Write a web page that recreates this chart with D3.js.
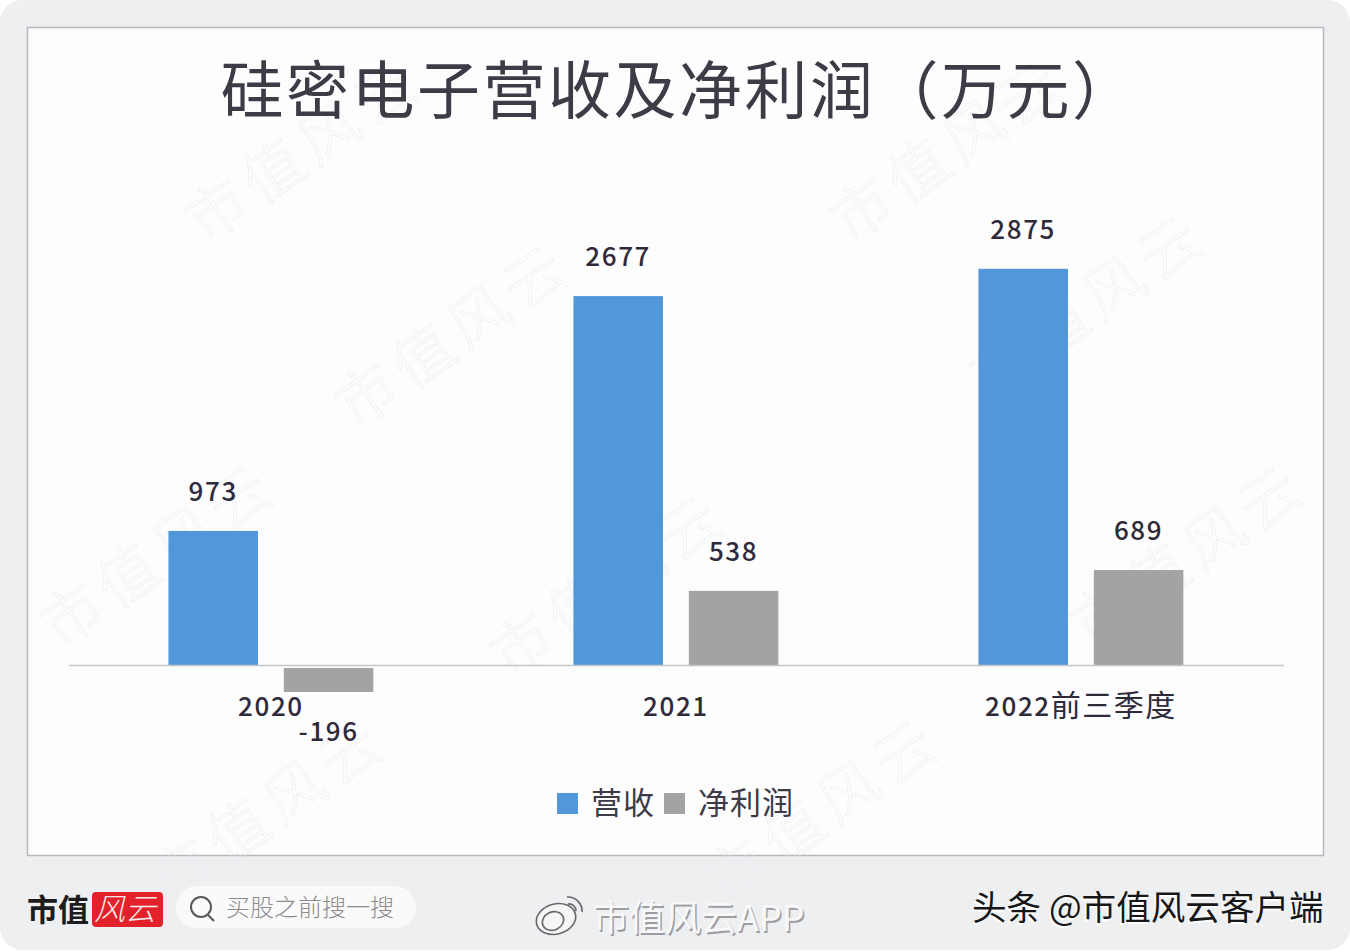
<!DOCTYPE html>
<html lang="zh"><head><meta charset="utf-8">
<style>html,body{margin:0;padding:0;background:#fff}svg{display:block}text{font-family:"Noto Sans CJK SC","Noto Sans",sans-serif}</style>
<script src="https://cdn.jsdelivr.net/npm/d3@7/dist/d3.min.js"></script></head><body>
<svg id="c" width="1350" height="952"></svg>
<script>
const categories = ["2020", "2021", "2022前三季度"];
const seriesNames = ["营收", "净利润"];
const revenue = [973, 2677, 2875];
const netProfit = [-196, 538, 689];
const colors = ["#5297d9", "#a3a3a5"];
const chartTitle = "硅密电子营收及净利润（万元）";
const inkColor = "#2f2a3a";

const svg = d3.select("#c");
svg.append("rect").attr("width",1350).attr("height",952).attr("fill","#ffffff");
svg.append("rect").attr("x",0).attr("y",0).attr("width",1350).attr("height",950).attr("rx",22).attr("fill","#eeeff1");
svg.append("rect").attr("x",27.5).attr("y",27.5).attr("width",1296).attr("height",828).attr("fill","#fdfdfe").attr("stroke","#b4b7bb").attr("stroke-width",1.5);

// faint diagonal watermark
const marks = [[205,245],[355,430],[510,680],[990,400],[1090,650],[60,650],[170,905],[725,905],[850,245]];
const wm = svg.append("g");
marks.forEach(([x,y])=>wm.append("text").attr("transform",`translate(${x},${y}) rotate(-35)`)
  .attr("font-size",60).attr("font-weight",300).attr("letter-spacing",8)
  .attr("fill","none").attr("stroke","#e8eaed").attr("stroke-width",0.7).attr("opacity",0.7).text("市值风云"));

const x0 = d3.scaleBand().domain(categories).range([68.4,1283.4]).paddingInner(0.494).paddingOuter(0.247);
const x1 = d3.scaleBand().domain(seriesNames).range([0,x0.bandwidth()]).paddingInner(0.224);
const y = d3.scaleLinear().domain([-300,3000]).range([706.34,251.6]);
const values = [revenue, netProfit];

svg.append("text").attr("x",679).attr("y",113).attr("text-anchor","middle").attr("font-size",63)
  .attr("font-weight",400).attr("letter-spacing",2.5).attr("fill","#3e3a46").text(chartTitle);

seriesNames.forEach((s,si)=>{
  const g = svg.append("g");
  g.selectAll("rect").data(values[si]).join("rect")
    .attr("x",(d,i)=>x0(categories[i])+x1(s))
    .attr("width",x1.bandwidth())
    .attr("y",d=>d<0?y(0)+3:y(d))
    .attr("height",d=>Math.abs(y(d)-y(0))-(d<0?3:0))
    .attr("fill",colors[si]);
  g.selectAll("text").data(values[si]).join("text")
    .attr("x",(d,i)=>x0(categories[i])+x1(s)+x1.bandwidth()/2)
    .attr("y",d=>d<0?y(d)+49:y(d)-30)
    .attr("text-anchor","middle").attr("font-size",26).attr("font-weight",500).attr("letter-spacing",1.6).attr("fill",inkColor).text(d=>d);
});

const axis = d3.axisBottom(x0).tickSize(0).tickPadding(0);
const ax = svg.append("g").attr("transform",`translate(0,${y(0)})`).call(axis);
ax.select(".domain").attr("stroke","#c3c5c8").attr("stroke-width",1.5);
ax.selectAll("text").attr("font-size",26).attr("font-weight",500).attr("fill",inkColor).attr("dy",0).attr("y",51)
  .attr("font-family",'"Noto Sans CJK SC"').attr("letter-spacing",1.6)
  .each(function(d){
    const m = d.match(/^(\d+)(.*)$/), t = d3.select(this).text(null);
    t.append("tspan").text(m[1]);
    if (m[2]) t.append("tspan").attr("font-size",30).attr("letter-spacing",1.5).attr("font-weight",400).text(m[2]);
  });

// legend
const lg = svg.append("g");
[[557,591],[664,698]].forEach(([sx,tx],i)=>{
  lg.append("rect").attr("x",sx).attr("y",793).attr("width",21).attr("height",21).attr("fill",colors[i]);
  lg.append("text").attr("x",tx).attr("y",814).attr("font-size",31).attr("letter-spacing",1).attr("fill","#3e3a46").text(seriesNames[i]);
});

// footer
svg.append("text").attr("x",27).attr("y",921).attr("font-size",31).attr("font-weight",700).attr("fill","#1c1c1c").text("市值");
svg.append("rect").attr("x",92).attr("y",892).attr("width",71).attr("height",35).attr("rx",4).attr("fill","#e2212a");
svg.append("text").attr("x",94).attr("y",920).attr("font-size",31).attr("font-style","italic").attr("font-weight",300).attr("fill","#fbe9e9").text("风云");
svg.append("rect").attr("x",176).attr("y",886).attr("width",240).attr("height",42).attr("rx",21).attr("fill","#fafafb");
svg.append("circle").attr("cx",201).attr("cy",907).attr("r",10).attr("fill","none").attr("stroke","#55585c").attr("stroke-width",2);
svg.append("line").attr("x1",208).attr("y1",915).attr("x2",214).attr("y2",921).attr("stroke","#55585c").attr("stroke-width",2);
svg.append("text").attr("x",226).attr("y",916).attr("font-size",24).attr("font-weight",300).attr("fill","#8a8c90").text("买股之前搜一搜");

// weibo-like mark
const wb = svg.append("g").attr("fill","none").attr("stroke","#66686c").attr("stroke-width",1.6);
wb.append("ellipse").attr("cx",556).attr("cy",919).attr("rx",20).attr("ry",15).attr("transform","rotate(-15 556 919)").attr("fill","#f6f6f7");
wb.append("ellipse").attr("cx",553).attr("cy",921).attr("rx",11).attr("ry",9).attr("transform","rotate(-25 553 921)");
wb.append("path").attr("d","M567 897 A14 14 0 0 1 582 912");
wb.append("path").attr("d","M568 904 A7 7 0 0 1 576 911");

const shadowText=(t,x,yy,fs,fill,shadow,dx,dy,w)=>{
  svg.append("text").attr("x",x+dx).attr("y",yy+dy).attr("font-size",fs).attr("font-weight",w).attr("fill",shadow).text(t);
  svg.append("text").attr("x",x).attr("y",yy).attr("font-size",fs).attr("font-weight",w).attr("fill",fill).text(t);
};
shadowText("市值风云APP",593,931,36,"#f8f8f9","#9c9ea2",1.5,1.5,400);
shadowText("头条 @市值风云客户端",972,920,34.6,"#17171a","#ffffff",-1.5,1.5,400);
</script></body></html>
